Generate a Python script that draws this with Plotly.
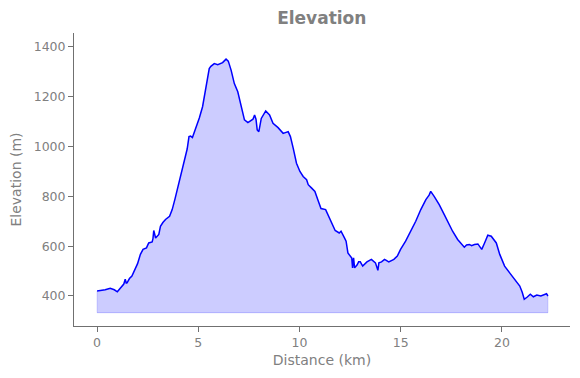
import plotly.graph_objects as go

distance_km = [0.00, 0.20, 0.40, 0.65, 0.85, 1.00, 1.12, 1.23, 1.32, 1.39, 1.44, 1.48, 1.60, 1.72, 1.89,
               2.00, 2.14, 2.27, 2.44, 2.55, 2.72, 2.76, 2.80, 2.85, 2.89, 3.05, 3.13, 3.25, 3.38, 3.58,
               3.71, 3.85, 4.00, 4.15, 4.29, 4.45, 4.54, 4.62, 4.71, 4.88, 5.05, 5.21, 5.37, 5.54, 5.62,
               5.71, 5.79, 5.96, 6.10, 6.20, 6.37, 6.48, 6.62, 6.78, 6.95, 7.11, 7.28, 7.45, 7.61, 7.70,
               7.78, 7.85, 7.91, 7.99, 8.11, 8.33, 8.52, 8.69, 8.94, 9.19, 9.44, 9.55, 9.69, 9.85, 10.02,
               10.18, 10.35, 10.43, 10.60, 10.76, 10.93, 11.06, 11.29, 11.51, 11.76, 11.96, 12.05, 12.22,
               12.30, 12.39, 12.50, 12.58, 12.62, 12.67, 12.72, 12.84, 12.92, 13.00, 13.12, 13.33, 13.55,
               13.75, 13.87, 13.92, 14.05, 14.20, 14.41, 14.66, 14.83, 14.99, 15.24, 15.49, 15.74, 15.99,
               16.24, 16.40, 16.48, 16.65, 16.90, 17.15, 17.31, 17.56, 17.81, 18.00, 18.14, 18.25, 18.39,
               18.50, 18.64, 18.81, 19.00, 19.14, 19.30, 19.47, 19.60, 19.72, 19.89, 20.13, 20.38, 20.63,
               20.88, 21.00, 21.10, 21.25, 21.40, 21.55, 21.72, 21.92, 22.08, 22.20, 22.27]

elevation_m = [420, 422, 425, 431, 425, 417, 428, 436, 448, 467, 452, 453, 470, 480, 507,
               530, 567, 587, 593, 613, 617, 630, 663, 640, 633, 647, 680, 695, 707, 720,
               747, 790, 840, 890, 940, 990, 1040, 1042, 1036, 1073, 1115, 1160, 1233, 1313, 1322,
               1327, 1333, 1329, 1332, 1337, 1351, 1343, 1307, 1253, 1220, 1167, 1107, 1096, 1103, 1110,
               1127, 1110, 1067, 1060, 1113, 1143, 1127, 1093, 1076, 1053, 1060, 1040, 993, 933, 900,
               880, 867, 847, 833, 820, 780, 751, 747, 707, 663, 653, 660, 633,
               620, 573, 560, 552, 513, 553, 513, 524, 537, 537, 520, 537, 547,
               533, 503, 533, 537, 547, 537, 547, 560, 587, 620, 660, 700, 747,
               787, 805, 820, 800, 767, 727, 700, 660, 627, 610, 596, 605, 607,
               602, 607, 609, 587, 613, 644, 640, 628, 613, 567, 520, 493, 467,
               440, 415, 387, 396, 407, 397, 404, 400, 405, 409, 400]

fill_base_m = 333

fig = go.Figure()
fig.add_trace(go.Scatter(
    x=[distance_km[0], distance_km[-1]], y=[fill_base_m, fill_base_m],
    mode="lines", line=dict(color="rgba(0,0,255,0.22)", width=1),
    hoverinfo="skip", showlegend=False))
fig.add_trace(go.Scatter(
    x=distance_km, y=elevation_m, mode="lines",
    line=dict(color="blue", width=1.5),
    fill="tonexty", fillcolor="rgba(0,0,255,0.2)",
    showlegend=False))
fig.add_trace(go.Scatter(
    x=[distance_km[0], distance_km[0], None, distance_km[-1], distance_km[-1]],
    y=[fill_base_m, elevation_m[0], None, fill_base_m, elevation_m[-1]],
    mode="lines", line=dict(color="rgba(0,0,255,0.15)", width=1),
    hoverinfo="skip", showlegend=False))

axis_common = dict(
    showgrid=False, zeroline=False, showline=True, linecolor="#707070", linewidth=1,
    ticks="outside", ticklen=5, tickcolor="#707070", tickwidth=1, automargin=False,
    tickfont=dict(family="DejaVu Sans", size=12.5, color="gray"),
    title_font=dict(family="DejaVu Sans", size=14, color="gray"),
)

fig.update_layout(
    width=580, height=378,
    margin=dict(l=66, r=18, t=25, b=60, autoexpand=False),
    paper_bgcolor="white", plot_bgcolor="white",
    title=dict(text="<b>Elevation</b>", x=0.541, xanchor="center", y=0.973, yanchor="middle",
               font=dict(family="DejaVu Sans", size=17, color="gray")),
    xaxis=dict(range=[-1.14, 23.36], tickvals=[0, 5, 10, 15, 20],
               title=dict(text="Distance (km)", standoff=6), **axis_common),
    yaxis=dict(range=[279.5, 1456], tickvals=[400, 600, 800, 1000, 1200, 1400],
               title=dict(text="Elevation (m)", standoff=9), **axis_common),
)

fig.write_html("out.html")
